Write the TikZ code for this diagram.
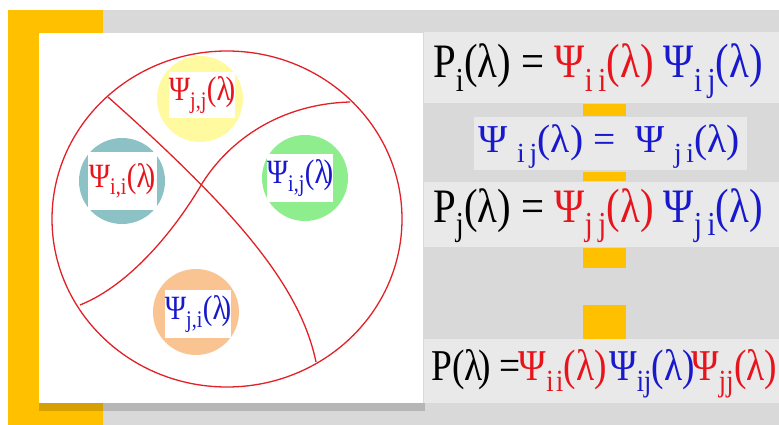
\documentclass[tikz,border=0pt]{standalone}
\usepackage{fontspec}
\setmainfont{Liberation Serif}
\newfontfamily\eqfont{Liberation Serif}[FakeStretch=0.85]
\newfontfamily\psifont{Liberation Serif}[FakeStretch=0.85]
\usetikzlibrary{positioning}

\definecolor{baryellow}{RGB}{255,192,0}
\definecolor{backgray}{RGB}{217,217,217}
\definecolor{eqgray}{RGB}{233,233,233}
\definecolor{psired}{RGB}{232,20,28}
\definecolor{psiblue}{RGB}{24,24,205}
\definecolor{linered}{RGB}{226,32,40}
\definecolor{cyellow}{RGB}{255,250,160}
\definecolor{cteal}{RGB}{140,193,197}
\definecolor{cgreen}{RGB}{142,238,142}
\definecolor{cpeach}{RGB}{250,196,146}

\newcommand{\idx}[1]{\textsubscript{#1}}

\begin{document}
\begin{tikzpicture}[ x=1pt, y=-1pt,
	psilabel/.style={ fill=white, inner sep=0pt, font=\psifont\fontsize{34}{36}\selectfont },
	eqtext/.style={ inner sep=0pt, anchor=base west } ]

	\def\radius{43}
	\def\barl{583}
	\def\barr{626}

	\useasboundingbox (0, 0) rectangle (779, 425);

	\fill[ backgray ] (103, 10) rectangle (779, 425);
	\fill[ baryellow ] (8, 10) rectangle (103, 425);
	\fill[ black, opacity=0.16 ] (39, 403) rectangle (425, 411);
	\fill[ white ] (39, 33) rectangle (423, 403);

	\fill[ eqgray ] (424, 32) rectangle (779, 103);
	\fill[ eqgray ] (474, 117) rectangle (747, 170);
	\fill[ eqgray ] (424, 182) rectangle (779, 247);
	\fill[ eqgray ] (424, 339) rectangle (779, 403);

	\fill[ baryellow ] (\barl, 104) rectangle (\barr, 116);
	\fill[ baryellow ] (\barl, 172) rectangle (\barr, 181);
	\fill[ baryellow ] (\barl, 248) rectangle (\barr, 268);
	\fill[ baryellow ] (\barl, 305) rectangle (\barr, 339);

	\fill[ cyellow ] (200, 99) circle (\radius);
	\fill[ cteal ] (122, 181) circle (\radius);
	\fill[ cgreen ] (305, 178) circle (\radius);
	\fill[ cpeach ] (196, 312) circle (\radius);

	\draw[ linered, line width=1.3pt ] (227, 219) ellipse (175 and 168);
	\draw[ linered, line width=1.3pt ] (108, 97) .. controls (235, 210) and (300, 285) .. (316, 362);
	\draw[ linered, line width=1.3pt ] (80, 305) .. controls (130, 285) and (175, 230) .. (203, 182)
		.. controls (230, 140) and (280, 104) .. (350, 102);

	\node[ psilabel, minimum width=62, minimum height=46, text=psired ] (jj) at (202, 95) {Ψ\idx{j,j}(λ\kern-0.15em)};
	\node[ psilabel, minimum width=69, minimum height=57, text=psired ] (ii) at (122, 181) {Ψ\idx{i,i}(λ\kern-0.15em)};
	\node[ psilabel, minimum width=66, minimum height=47, text=psiblue ] (ij) at (300, 178) {Ψ\idx{i,j}(λ\kern-0.15em)};
	\node[ psilabel, minimum width=63, minimum height=48, text=psiblue ] (ji) at (198, 314) {Ψ\idx{j,i}(λ\kern-0.15em)};

	\node[ eqtext, font=\eqfont\fontsize{48}{50}\selectfont ] (pi) at (433, 78)
		{P\idx{i}(λ) = {\color{psired}Ψ\idx{i\,i}(λ)} {\color{psiblue}Ψ\idx{i\,j}(λ)}};
	\node[ eqtext, font=\fontsize{39.5}{42}\selectfont, text=psiblue ] (sym) at (478, 153)
		{Ψ\ \idx{i\,j}(λ) = \ Ψ\ \idx{j\,i}(λ)};
	\node[ eqtext, font=\eqfont\fontsize{44}{46}\selectfont ] (p) at (431, 380)
		{P(λ\kern-0.1em) =\kern-0.05em{\color{psired}Ψ\idx{i\kern0.08em i}(λ)}\kern0.05em{\color{psiblue}Ψ\idx{ij}(λ)}\kern-0.08em{\color{psired}Ψ\idx{jj}(λ)}};
	\node[ eqtext, font=\eqfont\fontsize{48}{50}\selectfont ] (pj) at (433, 222)
		{P\idx{j}(λ) = {\color{psired}Ψ\idx{j\,j}(λ)} {\color{psiblue}Ψ\idx{j\,i}(λ)}};

\end{tikzpicture}
\end{document}
